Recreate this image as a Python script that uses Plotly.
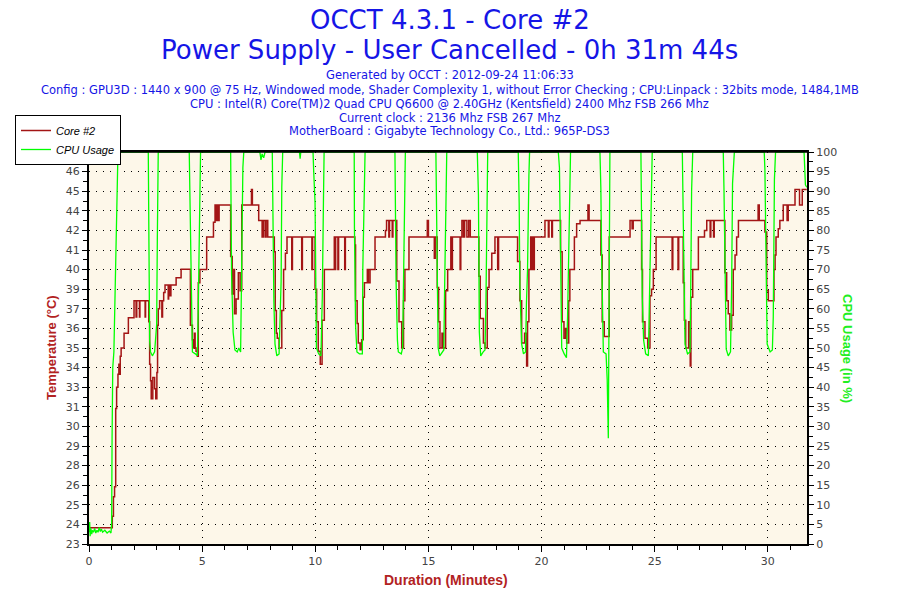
"""OCCT 4.3.1 - Core #2 temperature and CPU usage over a 31m44s power supply run."""
import plotly.graph_objects as go

# (minutes, temperature) -- the OCCT core sensor, drawn as a stepped line
CORE2_TRACE = [
    (0.00, 24.0), (1.03, 24.7), (1.08, 25.9), (1.13, 26.5), (1.18, 31.3), (1.22, 32.6),
    (1.28, 33.4), (1.32, 34.0), (1.36, 33.4), (1.38, 34.5), (1.42, 35.0), (1.55, 35.9),
    (1.74, 36.85), (1.99, 37.9), (2.08, 36.9), (2.11, 37.9), (2.23, 36.9), (2.25, 37.9),
    (2.48, 36.9), (2.50, 37.9), (2.64, 36.6), (2.68, 34.0), (2.72, 33.0), (2.75, 31.9),
    (2.82, 33.2), (2.90, 32.5), (2.95, 31.9), (3.00, 33.5), (3.03, 36.4), (3.06, 37.4),
    (3.12, 37.9), (3.22, 36.9), (3.25, 37.9), (3.30, 38.4), (3.36, 38.86), (3.50, 38.0),
    (3.52, 38.86), (3.58, 38.2), (3.62, 38.86), (3.85, 39.3), (4.07, 39.82), (4.48, 36.4),
    (4.57, 35.5), (4.61, 35.0), (4.66, 35.9), (4.69, 35.0), (4.73, 34.8), (4.79, 34.5),
    (4.83, 39.0), (4.90, 39.8), (5.20, 41.8), (5.50, 42.7), (5.57, 43.75), (5.62, 42.8),
    (5.66, 43.75), (5.72, 42.8), (5.75, 43.75), (6.26, 40.6), (6.33, 38.3), (6.40, 39.8),
    (6.43, 37.1), (6.50, 38.0), (6.60, 39.6), (6.68, 38.5), (6.75, 43.75), (7.18, 44.7),
    (7.22, 43.75), (7.50, 42.8), (7.65, 41.8), (7.70, 42.8), (7.78, 41.8), (7.83, 42.8),
    (7.90, 41.8), (8.19, 40.9), (8.23, 37.3), (8.28, 35.9), (8.32, 35.6), (8.40, 35.0),
    (8.52, 37.3), (8.60, 39.8), (8.68, 40.8), (8.75, 41.8), (8.96, 39.8), (8.99, 41.8),
    (9.40, 39.8), (9.43, 41.8), (9.85, 39.8), (9.88, 41.8), (9.99, 38.6), (10.06, 36.6),
    (10.13, 34.8), (10.22, 34.0), (10.30, 36.7), (10.40, 39.8), (10.84, 41.8), (10.87, 39.8),
    (10.90, 41.8), (11.00, 39.8), (11.03, 41.8), (11.30, 39.8), (11.33, 41.8), (11.75, 41.3),
    (11.78, 37.9), (11.85, 36.5), (11.90, 35.3), (11.98, 34.9), (12.05, 35.5), (12.12, 38.1),
    (12.17, 39.0), (12.30, 39.8), (12.35, 39.0), (12.42, 39.8), (12.64, 41.8), (13.10, 42.2),
    (13.15, 42.8), (13.25, 41.8), (13.28, 42.8), (13.40, 41.8), (13.43, 42.8), (13.60, 39.1),
    (13.70, 36.6), (13.82, 35.0), (13.90, 37.9), (13.96, 39.8), (14.14, 41.8), (14.95, 42.8),
    (15.00, 41.8), (15.26, 40.5), (15.30, 41.8), (15.39, 38.7), (15.45, 36.6), (15.51, 35.0),
    (15.60, 35.9), (15.66, 35.0), (15.76, 38.5), (15.85, 39.8), (15.99, 41.8), (16.03, 39.8),
    (16.06, 41.8), (16.40, 39.8), (16.43, 41.8), (16.48, 42.8), (16.55, 41.8), (16.60, 42.8),
    (16.70, 41.8), (16.78, 42.8), (16.85, 41.8), (17.23, 39.4), (17.29, 36.8), (17.43, 35.3),
    (17.50, 35.0), (17.60, 38.7), (17.68, 39.8), (17.80, 40.8), (17.94, 41.8), (18.06, 39.8),
    (18.10, 41.8), (18.94, 40.3), (19.04, 37.9), (19.12, 35.3), (19.25, 35.9), (19.34, 33.9),
    (19.38, 36.6), (19.44, 39.8), (19.52, 41.8), (19.56, 39.8), (19.60, 41.8), (19.64, 39.8),
    (19.68, 41.8), (20.15, 42.8), (20.30, 41.8), (20.33, 42.8), (20.45, 41.8), (20.48, 42.8),
    (20.84, 40.9), (20.91, 36.6), (20.99, 35.6), (21.06, 36.2), (21.11, 35.3), (21.20, 37.9),
    (21.25, 39.8), (21.45, 41.8), (21.55, 42.6), (21.70, 42.8), (22.05, 43.75), (22.10, 42.8),
    (22.62, 40.7), (22.68, 36.6), (22.77, 35.7), (22.99, 41.8), (23.91, 42.8), (24.00, 42.3),
    (24.05, 42.8), (24.42, 39.8), (24.46, 36.6), (24.57, 35.6), (24.69, 35.0), (24.79, 38.2),
    (24.86, 38.6), (24.94, 39.8), (25.06, 41.8), (25.77, 39.8), (25.80, 41.8), (26.03, 39.8),
    (26.06, 41.8), (26.26, 39.0), (26.31, 36.7), (26.37, 35.0), (26.50, 36.6), (26.57, 33.9),
    (26.60, 38.1), (26.68, 39.8), (26.93, 41.8), (27.20, 42.2), (27.30, 42.8), (27.45, 41.8),
    (27.48, 42.8), (27.60, 41.8), (27.63, 42.8), (28.10, 39.6), (28.18, 37.9), (28.25, 37.1),
    (28.32, 36.1), (28.40, 37.0), (28.47, 39.8), (28.55, 40.7), (28.62, 41.8), (28.70, 42.8),
    (29.57, 43.75), (29.62, 42.8), (29.87, 42.1), (29.95, 38.5), (30.02, 37.9), (30.27, 39.8),
    (30.32, 40.7), (30.36, 41.8), (30.46, 42.3), (30.53, 42.8), (30.68, 43.75), (30.85, 42.8),
    (30.90, 43.75), (31.20, 44.7), (31.40, 43.75), (31.52, 44.7), (31.72, 44.7),
]

# (minutes, CPU usage %)
CPU_TRACE = [
    (0.00, 3.0), (0.03, 5.6), (0.05, 2.0), (0.08, 4.0), (0.12, 2.5), (0.15, 3.5), (0.20, 3.0),
    (0.25, 4.0), (0.30, 2.8), (0.35, 3.5), (0.40, 3.0), (0.45, 4.2), (0.50, 3.2), (0.55, 3.8),
    (0.60, 3.0), (0.70, 3.5), (0.80, 2.8), (0.90, 3.3), (0.97, 2.8), (1.00, 5.0), (1.02, 27.0),
    (1.05, 45.0), (1.10, 49.0), (1.15, 62.0), (1.22, 81.0), (1.28, 100),
    (2.62, 100), (2.63, 86), (2.66, 63), (2.68, 52), (2.72, 49), (2.80, 48), (2.90, 49),
    (2.99, 56), (3.02, 78), (3.06, 100),
    (4.43, 100), (4.45, 91), (4.51, 75), (4.54, 58), (4.57, 49), (4.70, 48.5), (4.79, 48),
    (4.83, 61), (4.89, 93), (4.93, 100),
    (6.26, 100), (6.30, 69), (6.37, 54), (6.45, 49.5), (6.55, 49), (6.62, 50), (6.70, 49),
    (6.74, 76), (6.80, 96), (6.84, 100),
    (7.55, 100), (7.60, 98), (7.65, 99.5), (7.72, 98.5), (7.78, 100),
    (8.10, 100), (8.14, 77), (8.17, 62), (8.22, 51), (8.30, 48), (8.40, 48.5), (8.45, 57.7),
    (8.49, 67), (8.52, 91), (8.56, 100),
    (9.30, 100), (9.33, 98.3), (9.36, 100),
    (9.90, 100), (9.93, 95), (9.99, 87), (10.05, 50), (10.15, 48.5), (10.25, 48), (10.31, 63),
    (10.36, 87), (10.39, 100),
    (11.72, 100), (11.73, 81), (11.78, 56), (11.84, 49), (11.95, 48.5), (12.08, 48.5),
    (12.10, 70), (12.15, 86), (12.20, 100),
    (13.52, 100), (13.57, 67), (13.63, 52), (13.67, 49), (13.80, 48.5), (13.86, 50),
    (13.89, 63), (13.94, 84), (13.98, 100),
    (15.33, 100), (15.36, 87), (15.39, 63), (15.43, 50), (15.50, 48), (15.60, 49),
    (15.68, 49.5), (15.71, 63), (15.76, 81), (15.81, 100),
    (17.16, 100), (17.21, 89), (17.25, 54), (17.31, 48), (17.42, 49), (17.50, 49.5),
    (17.54, 61), (17.59, 93), (17.62, 100),
    (18.97, 100), (19.01, 87), (19.04, 66), (19.12, 51), (19.20, 48.5), (19.29, 49),
    (19.33, 61), (19.38, 70), (19.44, 94), (19.47, 100),
    (20.74, 100), (20.79, 96), (20.84, 74), (20.89, 50), (21.00, 48.5), (21.10, 47.5),
    (21.15, 58), (21.21, 81), (21.25, 96), (21.28, 100),
    (22.58, 100), (22.62, 90.7), (22.65, 75), (22.70, 58), (22.73, 49), (22.85, 48.5),
    (22.90, 42), (22.95, 27), (22.96, 40), (22.99, 76), (23.02, 100),
    (24.39, 100), (24.42, 85.6), (24.45, 63), (24.51, 52), (24.60, 48.5), (24.72, 48),
    (24.78, 64), (24.84, 85), (24.89, 100),
    (26.22, 100), (26.26, 81), (26.29, 60), (26.34, 51), (26.45, 48.5), (26.56, 49),
    (26.59, 64), (26.63, 90), (26.68, 100),
    (28.03, 100), (28.06, 91), (28.10, 71), (28.16, 49.7), (28.25, 48), (28.35, 49),
    (28.40, 66), (28.44, 92), (28.52, 100),
    (29.84, 100), (29.87, 95.5), (29.91, 75), (29.97, 51), (30.10, 49), (30.20, 49.5),
    (30.24, 58), (30.29, 93), (30.34, 100),
    (31.60, 100), (31.66, 91.6), (31.72, 91),
]

# left axis labels as OCCT prints them (rounded values of 21 evenly spaced ticks)
TEMP_TICK_LABELS = ["23", "24", "25", "26", "28", "29", "30", "31", "33", "34", "35",
                    "36", "37", "39", "40", "41", "42", "44", "45", "46", "47"]
TEMP_RANGE = [23, 47]
DURATION = 31.73  # 0h 31m 44s

TITLE = "OCCT 4.3.1 - Core #2"
SUBTITLE = "Power Supply - User Cancelled - 0h 31m 44s"
INFO_LINES = [
    "Generated by OCCT : 2012-09-24 11:06:33",
    "Config : GPU3D : 1440 x 900 @ 75 Hz, Windowed mode, Shader Complexity 1, without Error Checking ; CPU:Linpack : 32bits mode, 1484,1MB",
    "CPU : Intel(R) Core(TM)2 Quad CPU Q6600 @ 2.40GHz (Kentsfield) 2400 Mhz FSB 266 Mhz",
    "Current clock : 2136 Mhz FSB 267 Mhz",
    "MotherBoard : Gigabyte Technology Co., Ltd.: 965P-DS3",
]

BLUE = "#1515E6"
RED_TEXT = "#B22222"
RED_LINE = "#A31515"
GREEN = "#00FF00"
TICK_GREY = "#444444"
FONT = "DejaVu Sans"

# plot area in pixels
L, R, T, B = 89, 807, 152, 544


def px_x(px):
    return (px - L) / (R - L)


def px_y(py):
    return (B - py) / (B - T)


def label(text, xpix, ypix, font, angle=0):
    fig.add_annotation(text=text, x=px_x(xpix), y=px_y(ypix), xref="paper", yref="paper",
                       xanchor="center", yanchor="middle", showarrow=False,
                       textangle=angle, font=font)


core_t = [p[0] for p in CORE2_TRACE]
core_v = [p[1] for p in CORE2_TRACE]
cpu_t = [p[0] for p in CPU_TRACE]
cpu_v = [p[1] for p in CPU_TRACE]

n = len(TEMP_TICK_LABELS) - 1
step = (TEMP_RANGE[1] - TEMP_RANGE[0]) / n
temp_tickvals = [TEMP_RANGE[0] + i * step for i in range(n + 1)]

fig = go.Figure()
fig.add_trace(go.Scatter(
    x=cpu_t, y=cpu_v, name="CPU Usage", yaxis="y2", mode="lines",
    line=dict(color=GREEN, width=1.3), legendrank=2,
))
fig.add_trace(go.Scatter(
    x=core_t, y=core_v, name="Core #2", mode="lines",
    line=dict(color=RED_LINE, width=1.5, shape="hv"), legendrank=1,
))

tick_font = dict(family=FONT, size=11, color=TICK_GREY)

fig.update_layout(
    width=900, height=600,
    margin=dict(l=L, r=900 - R, t=T, b=600 - B, autoexpand=False),
    paper_bgcolor="white",
    plot_bgcolor="#FDF7E9",
    showlegend=True,
    legend=dict(
        x=px_x(15), y=px_y(115), xanchor="left", yanchor="top",
        bgcolor="white", bordercolor="black", borderwidth=1,
        font=dict(family="Liberation Sans", size=11, color="black", style="italic"),
        itemwidth=30, tracegroupgap=0,
    ),
    xaxis=dict(
        range=[0, DURATION], tickmode="linear", tick0=0, dtick=5,
        ticks="outside", ticklen=6, tickwidth=1, tickcolor="black",
        minor=dict(tickmode="linear", tick0=0, dtick=1, ticks="outside", ticklen=4,
                   tickcolor="black", showgrid=False),
        showgrid=True, gridcolor="black", gridwidth=1, griddash="1px,6px",
        showline=True, linecolor="black", linewidth=2, mirror=True,
        zeroline=False, tickfont=tick_font,
    ),
    yaxis=dict(
        range=TEMP_RANGE, tickmode="array", tickvals=temp_tickvals, ticktext=TEMP_TICK_LABELS,
        ticks="outside", ticklen=5, tickwidth=1, tickcolor="black",
        minor=dict(tickmode="linear", tick0=TEMP_RANGE[0], dtick=step / 2, ticks="outside",
                   ticklen=4, tickcolor="black", showgrid=False),
        showgrid=True, gridcolor="black", gridwidth=1, griddash="1px,6px",
        showline=True, linecolor="black", linewidth=2, mirror=True,
        zeroline=False, tickfont=tick_font,
    ),
    yaxis2=dict(
        range=[0, 100], overlaying="y", side="right", tickmode="linear", tick0=0, dtick=5,
        ticks="outside", ticklen=5, tickwidth=1, tickcolor="black",
        minor=dict(tickmode="linear", tick0=0, dtick=2.5, ticks="outside", ticklen=4,
                   tickcolor="black"),
        showgrid=False, showline=True, linecolor="black", linewidth=2,
        zeroline=False, tickfont=tick_font,
    ),
)

# top border drawn over the traces so the 100 % line hides under it
fig.add_shape(type="line", xref="paper", yref="paper", x0=0, x1=1, y0=1, y1=1,
              line=dict(color="black", width=1.5), layer="above")

# header block
label(TITLE, 450, 20, dict(family=FONT, size=26, color=BLUE))
label(SUBTITLE, 450, 50, dict(family=FONT, size=26, color=BLUE))
for line, ypix in zip(INFO_LINES, [75, 90, 104, 118, 131]):
    label(line, 450, ypix, dict(family=FONT, size=11.5, color=BLUE))

# axis titles
label("<b>Duration (Minutes)</b>", 446, 580,
      dict(family="Liberation Sans", size=14, color=RED_TEXT))
label("<b>Temperature (°C)</b>", 51, 348,
      dict(family="Liberation Sans", size=13, color=RED_TEXT), angle=-90)
label("<b>CPU Usage (in %)</b>", 848, 348,
      dict(family="Liberation Sans", size=13, color="#22EE22"), angle=90)

# the page keeps the browser's default 8px body margin otherwise
fig.write_html("out.html", config={"displayModeBar": False},
               post_script="document.body.style.margin='0px';")
